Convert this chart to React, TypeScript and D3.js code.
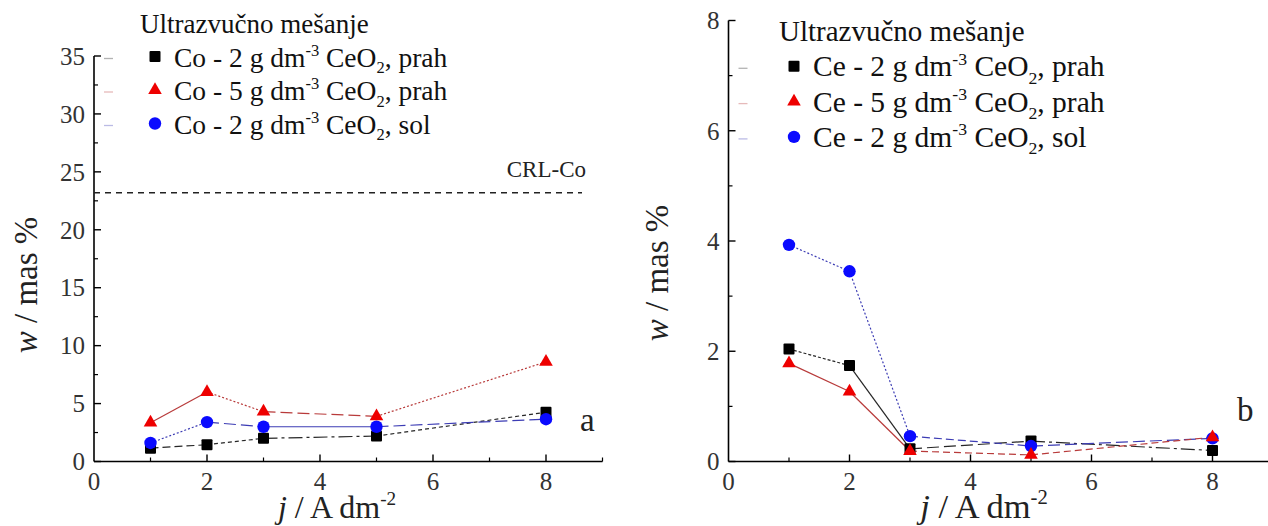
import React from "react";
import * as d3 from "d3";

// ---------- DATA ----------
const currentDensity = [1, 2, 3, 5, 8]; // j / A dm-2
const coPrah2 = [1.15, 1.45, 2.0, 2.2, 4.25];
const coPrah5 = [3.35, 6.0, 4.3, 3.9, 8.6];
const coSol2 = [1.6, 3.4, 3.0, 3.0, 3.65];
const cePrah2 = [2.04, 1.74, 0.23, 0.37, 0.2];
const cePrah5 = [1.78, 1.27, 0.19, 0.12, 0.44];
const ceSol2 = [3.93, 3.45, 0.46, 0.28, 0.42];
const crlCo = 23.2;
const xTicksMajor = [0, 2, 4, 6, 8];
const yTicksLeft = [0, 5, 10, 15, 20, 25, 30, 35];
const yTicksRight = [0, 2, 4, 6, 8];
const legendTitle = "Ultrazvučno mešanje";

// ---------- STYLES ----------
const FS = { fontFamily: '"Liberation Serif"' };
const MARKER = { black: "#000000", red: "#ee0000", blue: "#0a0aff" };
const LINE = { black: "#262626", red: "#b83a3a", blue: "#3c3cb4" };

type Series = {
  values: number[];
  kind: "square" | "triangle" | "circle";
  color: keyof typeof MARKER;
  dashes: string[];
};

const leftSeries: Series[] = [
  { values: coPrah2, kind: "square", color: "black", dashes: ["8,4", "4,3", "14,4,3,4", "4,3"] },
  { values: coSol2, kind: "circle", color: "blue", dashes: ["2,2", "12,5", "none", "12,5"] },
  { values: coPrah5, kind: "triangle", color: "red", dashes: ["none", "2,2", "12,5", "2,2"] },
];
const rightSeries: Series[] = [
  { values: cePrah2, kind: "square", color: "black", dashes: ["3,2", "none", "12,5", "14,4,3,4"] },
  { values: ceSol2, kind: "circle", color: "blue", dashes: ["2,2", "2,2", "8,4", "12,5"] },
  { values: cePrah5, kind: "triangle", color: "red", dashes: ["none", "none", "7,4", "7,4"] },
];

function Marker({ kind, x, y, fill }: { kind: string; x: number; y: number; fill: string }) {
  if (kind === "square") return <rect x={x - 5.5} y={y - 5.5} width={11} height={11} rx={1} fill={fill} />;
  if (kind === "circle") return <circle cx={x} cy={y} r={6.2} fill={fill} />;
  const p = d3.symbol().type(d3.symbolTriangle).size(80)();
  return <path d={p || ""} transform={`translate(${x},${y})`} fill={fill} />;
}

type PanelProps = {
  x0: number; x1: number; y0: number; y1: number; yMax: number;
  yTicks: number[]; yMinorStep: number; series: Series[];
  elem: string; fs: number; titleFs: number; legendX: number; legendY: number; legendDy: number;
  yTitleX: number; yTitleY: number; xTitleX: number; xTitleFs: number;
  label: string; labelX: number; labelY: number;
  crl?: number;
};

function Panel(p: PanelProps) {
  const x = d3.scaleLinear().domain([0, 9]).range([p.x0, p.x1]);
  const y = d3.scaleLinear().domain([0, p.yMax]).range([p.y0, p.y1]);
  const xMinor = d3.range(1, 10, 2);
  const yMinor = d3.range(p.yMinorStep, p.yMax, p.yMinorStep * 2);
  const labels = [
    { n: "2", tail: "prah", kind: "square", color: "black" },
    { n: "5", tail: "prah", kind: "triangle", color: "red" },
    { n: "2", tail: "sol", kind: "circle", color: "blue" },
  ];
  const sfs = p.fs * 0.6;
  return (
    <g>
      {/* axes */}
      <line x1={x(0)} x2={x(0)} y1={y(0)} y2={y(p.yMax)} stroke="#000" strokeWidth={1.6} />
      <line x1={x(0)} x2={x(9)} y1={y(0)} y2={y(0)} stroke="#000" strokeWidth={1.6} />
      {p.yTicks.map((t) => (
        <g key={"yt" + t}>
          <line x1={x(0)} x2={x(0) + 7} y1={y(t)} y2={y(t)} stroke="#000" strokeWidth={1.4} />
          <text x={x(0) - 9} y={y(t)} dy="0.35em" textAnchor="end" fontSize={25} fill="#333" style={FS}>{t}</text>
        </g>
      ))}
      {yMinor.map((t) => (
        <line key={"ym" + t} x1={x(0)} x2={x(0) + 4} y1={y(t)} y2={y(t)} stroke="#000" strokeWidth={1.2} />
      ))}
      {xTicksMajor.map((t) => (
        <g key={"xt" + t}>
          {t > 0 && <line x1={x(t)} x2={x(t)} y1={y(0)} y2={y(0) - 7} stroke="#000" strokeWidth={1.4} />}
          <text x={x(t)} y={490} textAnchor="middle" fontSize={25} fill="#333" style={FS}>{t}</text>
        </g>
      ))}
      {xMinor.map((t) => (
        <line key={"xm" + t} x1={x(t)} x2={x(t)} y1={y(0)} y2={y(0) - 4} stroke="#000" strokeWidth={1.2} />
      ))}
      {/* titles */}
      <text transform={`translate(${p.yTitleX},${p.yTitleY}) rotate(-90)`} textAnchor="middle" fontSize={33} fill="#222" style={FS}>
        <tspan fontStyle="italic">w</tspan> / mas %
      </text>
      <text x={p.xTitleX} y={518} textAnchor="middle" fontSize={p.xTitleFs} fill="#222" style={FS}>
        <tspan fontStyle="italic">j</tspan> / A dm<tspan dy={-p.xTitleFs * 0.4} fontSize={p.xTitleFs * 0.6}>-2</tspan>
      </text>
      <text x={p.labelX} y={p.labelY} fontSize={33} fill="#222" style={FS}>{p.label}</text>
      {/* CRL line */}
      {p.crl !== undefined && (
        <g>
          <line x1={x(0)} x2={582} y1={y(p.crl)} y2={y(p.crl)} stroke="#222" strokeWidth={1.4} strokeDasharray="6,5" />
          <text x={586} y={177} textAnchor="end" fontSize={23} fill="#222" style={FS}>CRL-Co</text>
        </g>
      )}
      {/* series lines */}
      {p.series.map((s, si) => (
        <g key={"s" + si}>
          {s.values.slice(0, -1).map((v, i) => (
            <line key={i} x1={x(currentDensity[i])} y1={y(v)} x2={x(currentDensity[i + 1])} y2={y(s.values[i + 1])}
              stroke={LINE[s.color]} strokeWidth={1.2} strokeDasharray={s.dashes[i] === "none" ? undefined : s.dashes[i]} />
          ))}
        </g>
      ))}
      {p.series.map((s, si) => (
        <g key={"m" + si}>
          {s.values.map((v, i) => (
            <Marker key={i} kind={s.kind} x={x(currentDensity[i])} y={y(v)} fill={MARKER[s.color]} />
          ))}
        </g>
      ))}
      {/* legend */}
      <text x={p.legendX} y={p.legendY} fontSize={p.titleFs} fill="#111" style={FS}>{legendTitle}</text>
      {labels.map((l, i) => {
        const ly = p.legendY + p.legendDy * (i + 1);
        return (
          <g key={"lg" + i}>
            <line x1={x(0) + 10} x2={x(0) + 19} y1={ly - 8} y2={ly - 8} stroke={LINE[l.color as keyof typeof LINE]} strokeOpacity={0.35} strokeWidth={1.3} />
            <Marker kind={l.kind} x={p.legendX + 15} y={ly - 10} fill={MARKER[l.color as keyof typeof MARKER]} />
            <text x={p.legendX + 34} y={ly} fontSize={p.fs} fill="#111" style={FS}>
              {p.elem} - {l.n} g dm<tspan dy={-p.fs * 0.4} fontSize={sfs}>-3</tspan>
              <tspan dy={p.fs * 0.4}> CeO</tspan><tspan dy={p.fs * 0.25} fontSize={sfs}>2</tspan>
              <tspan dy={-p.fs * 0.25}>, {l.tail}</tspan>
            </text>
          </g>
        );
      })}
    </g>
  );
}

export default function App() {
  return (
    <svg width={1268} height={526} style={{ position: "absolute", left: 0, top: 0, background: "#fff" }}>
      <rect width={1268} height={526} fill="#fff" />
      <Panel x0={94} x1={602.5} y0={461.5} y1={56} yMax={35} yTicks={yTicksLeft} yMinorStep={2.5}
        series={leftSeries} elem="Co" fs={27.5} titleFs={27} legendX={140} legendY={33} legendDy={33.5}
        yTitleX={37} yTitleY={285} xTitleX={337} xTitleFs={32} label="a" labelX={580} labelY={431} crl={crlCo} />
      <Panel x0={728.5} x1={1273} y0={461.5} y1={20.5} yMax={8} yTicks={yTicksRight} yMinorStep={1}
        series={rightSeries} elem="Ce" fs={29.5} titleFs={29} legendX={779} legendY={41} legendDy={35.3}
        yTitleX={668} yTitleY={273} xTitleX={984} xTitleFs={34.5} label="b" labelX={1237} labelY={421} />
    </svg>
  );
}
